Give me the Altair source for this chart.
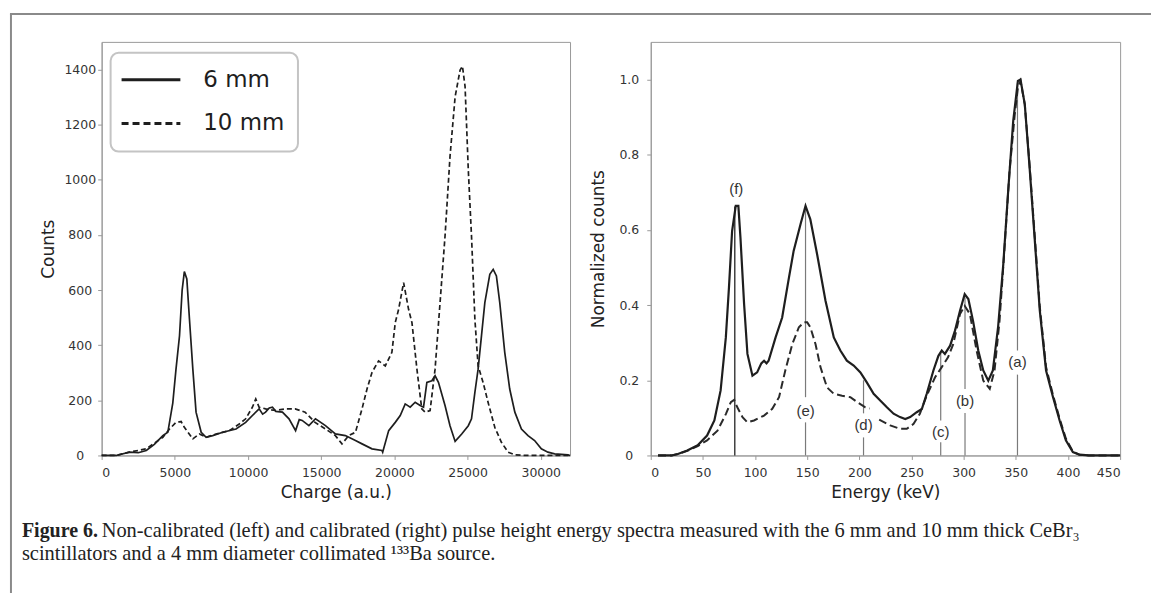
import altair as alt
import pandas as pd

# ---------------- Left panel: non-calibrated spectra ----------------
charge_6mm = [0, 1000, 1900, 2500, 3050, 3600, 4180, 4520, 4860, 5080, 5320, 5500, 5650, 5820, 6000,
              6230, 6450, 6800, 7140, 7590, 8270, 9180, 9840, 10300, 10760, 11000, 11200, 11450, 11670,
              11900, 12350, 12800, 13250, 13500, 13700, 14160, 14610, 15290, 15970, 16650, 17340, 17790,
              18470, 19150, 19200, 19610, 20060, 20400, 20740, 21080, 21420, 21760, 21990, 22220, 22560,
              22780, 23010, 23460, 23800, 24150, 24600, 25050, 25270, 25500, 25720, 25950, 26180, 26520,
              26750, 26970, 27200, 27540, 27880, 28230, 28680, 29130, 29580, 30040, 30490, 30950, 31860, 32000]
counts_6mm = [0, 0, 12, 10, 18, 40, 72, 84, 190, 313, 434, 600, 667, 640, 494,
              313, 157, 84, 66, 72, 84, 96, 120, 145, 169, 150, 157, 172, 175,
              160, 157, 133, 90, 130, 127, 108, 133, 108, 78, 72, 54, 42,
              24, 18, 12, 90, 120, 145, 187, 175, 193, 181, 175, 265, 271,
              289, 265, 181, 108, 51, 78, 108, 133, 229, 313, 434, 554, 657,
              675, 651, 554, 374, 241, 157, 96, 72, 54, 24, 12, 6, 2, 0]

charge_10mm = [0, 1000, 1900, 3050, 4180, 4640, 5080, 5430, 5650, 6230, 6680, 7140, 7820, 8720, 9400,
               9840, 10300, 10530, 10760, 11200, 11870, 12550, 13220, 13900, 14580, 15290, 15970, 16420,
               16880, 17340, 17790, 18130, 18470, 18920, 19380, 19830, 20060, 20290, 20630, 20970, 21200,
               21540, 21870, 22100, 22440, 22780, 23120, 23460, 23800, 24150, 24490, 24650, 24830, 25050,
               25270, 25500, 25720, 26060, 26400, 26860, 27310, 27770, 28230, 29000, 32000]
counts_10mm = [0, 0, 12, 24, 66, 96, 120, 123, 102, 60, 78, 66, 78, 90, 114,
               133, 175, 205, 175, 169, 163, 169, 169, 157, 120, 96, 72, 42,
               72, 84, 169, 241, 301, 343, 325, 374, 482, 530, 627, 530, 482,
               313, 169, 157, 163, 313, 554, 795, 1084, 1301, 1398, 1412, 1338, 1036,
               795, 494, 325, 265, 193, 102, 48, 12, 2, 0, 0]

# ---------------- Right panel: calibrated spectra ----------------
energy_6mm = [7, 20, 26, 35, 45, 54, 61, 67, 72, 75, 78, 81.5, 84, 86, 89.5, 92.7, 97.5, 102, 106, 108.6,
              111, 113, 119.7, 126, 132.5, 137, 143.6, 148.4, 153, 159.5, 167.5, 175.5, 181.8, 188, 194.6,
              201, 207, 213.7, 220, 226.4, 232.8, 239, 244, 248.7, 255, 260, 264.6, 271, 275.8, 279, 282,
              287, 291.7, 296.5, 301, 304.5, 309, 314, 318.8, 323.6, 328, 333, 338, 342.7, 347.5, 352,
              354.5, 358.6, 363, 368, 373, 379, 385.7, 392, 398, 404.7, 411, 420, 450]
norm_6mm = [0, 0, 0.004, 0.013, 0.027, 0.053, 0.093, 0.173, 0.314, 0.447, 0.597, 0.664, 0.664, 0.58, 0.403,
            0.27, 0.212, 0.221, 0.245, 0.252, 0.245, 0.252, 0.314, 0.367, 0.473, 0.544, 0.615, 0.664, 0.628,
            0.535, 0.412, 0.314, 0.279, 0.252, 0.239, 0.221, 0.195, 0.164, 0.146, 0.128, 0.111, 0.102,
            0.097, 0.102, 0.115, 0.124, 0.164, 0.226, 0.265, 0.279, 0.27, 0.292, 0.332, 0.385, 0.429,
            0.416, 0.358, 0.279, 0.226, 0.199, 0.226, 0.341, 0.509, 0.704, 0.889, 0.996, 1.0, 0.934,
            0.774, 0.58, 0.385, 0.226, 0.155, 0.093, 0.04, 0.009, 0.002, 0, 0]

# 10 mm curve is drawn in two pieces (there is a small break near 215 keV)
energy_10mm_a = [7, 20, 26, 35, 45, 54, 64, 72, 76.8, 80, 83, 88, 92.7, 99, 108.6, 116.5, 123, 129, 135.7,
                 142, 146.8, 150, 153, 158, 162.7, 169, 175.5, 183.4, 191.4, 197.8, 205.7, 210]
norm_10mm_a = [0, 0, 0.004, 0.012, 0.025, 0.04, 0.066, 0.11, 0.142, 0.148, 0.128, 0.102, 0.088, 0.093,
               0.106, 0.124, 0.155, 0.226, 0.296, 0.341, 0.354, 0.354, 0.341, 0.296, 0.235, 0.181, 0.164,
               0.159, 0.155, 0.142, 0.128, 0.125]
energy_10mm_b = [219, 229.6, 239, 245.5, 252, 258, 264.6, 272.6, 279, 285, 290, 296.5, 301, 306, 312.4,
                 318.8, 325, 329.6, 334.4, 339, 344, 349, 352, 354.5, 358.6, 363, 368, 373, 379, 385.7,
                 392, 398, 404.7, 411, 420, 450]
norm_10mm_b = [0.095, 0.08, 0.071, 0.071, 0.084, 0.111, 0.159, 0.208, 0.235, 0.261, 0.296, 0.376, 0.398,
               0.376, 0.279, 0.199, 0.177, 0.226, 0.358, 0.544, 0.757, 0.907, 0.978, 0.996, 0.934, 0.78,
               0.59, 0.395, 0.235, 0.16, 0.098, 0.045, 0.01, 0.002, 0, 0]

# Peak annotations
peak_names = ["(a)", "(b)", "(c)", "(d)", "(e)", "(f)"]
peak_energy = [351.6, 301.3, 278, 204, 148.4, 82]
peak_label_y = [0.248, 0.146, 0.062, 0.080, 0.119, 0.708]

seg_names = ["(a)", "(a)", "(b)", "(b)", "(c)", "(c)", "(d)", "(d)", "(e)", "(e)", "(f)"]
seg_energy = [351.6, 351.6, 301.3, 301.3, 278, 278, 204, 204, 148.4, 148.4, 80.6]
seg_y0 = [0, 0.279, 0, 0.177, 0, 0.093, 0, 0.112, 0, 0.155, 0]
seg_y1 = [0.215, 0.99, 0.113, 0.42, 0.035, 0.274, 0.048, 0.2, 0.088, 0.662, 0.662]

INK = "#1e1e1e"

left_6 = pd.DataFrame({"x": charge_6mm, "y": counts_6mm})
left_10 = pd.DataFrame({"x": charge_10mm, "y": counts_10mm})
right_6 = pd.DataFrame({"x": energy_6mm, "y": norm_6mm})
right_10 = pd.DataFrame({"x": energy_10mm_a + energy_10mm_b,
                         "y": norm_10mm_a + norm_10mm_b,
                         "part": ["a"] * len(energy_10mm_a) + ["b"] * len(energy_10mm_b)})
labels_df = pd.DataFrame({"name": peak_names, "x": peak_energy, "y": peak_label_y})
segs_df = pd.DataFrame({"name": seg_names, "x": seg_energy, "y0": seg_y0, "y1": seg_y1})
one = pd.DataFrame({"k": [0]})

# ---------------- Left chart ----------------
xL = alt.X("x:Q", scale=alt.Scale(domain=[0, 32000], nice=False, zero=False),
           axis=alt.Axis(values=[0, 5000, 10000, 15000, 20000, 25000, 30000], format="d",
                         title="Charge (a.u.)", labelPadding=7, titlePadding=6))
yL = alt.Y("y:Q", scale=alt.Scale(domain=[0, 1500], nice=False),
           axis=alt.Axis(values=[0, 200, 400, 600, 800, 1000, 1200, 1400], format="d", title="Counts",
                         labelAlign="center", labelPadding=18, titlePadding=6))

l6 = alt.Chart(left_6).mark_line(color=INK, strokeWidth=1.7).encode(x=xL, y=yL)
l10 = alt.Chart(left_10).mark_line(color=INK, strokeWidth=1.7, strokeDash=[5, 3]).encode(x=xL, y=yL)

legend_box = alt.Chart(one).mark_rect(cornerRadius=8, fill="white", stroke="#c4c4c4", strokeWidth=2).encode(
    x=alt.value(9), x2=alt.value(197), y=alt.value(11), y2=alt.value(110))
legend_l1 = alt.Chart(one).mark_rule(color=INK, strokeWidth=3).encode(
    x=alt.value(20), x2=alt.value(79), y=alt.value(38))
legend_l2 = alt.Chart(one).mark_rule(color=INK, strokeWidth=3, strokeDash=[7, 4]).encode(
    x=alt.value(20), x2=alt.value(79), y=alt.value(82))
legend_t1 = alt.Chart(one).mark_text(align="left", baseline="middle", font="DejaVu Sans", fontSize=23,
                                     color=INK).encode(x=alt.value(102), y=alt.value(38), text=alt.value("6 mm"))
legend_t2 = alt.Chart(one).mark_text(align="left", baseline="middle", font="DejaVu Sans", fontSize=23,
                                     color=INK).encode(x=alt.value(102), y=alt.value(81), text=alt.value("10 mm"))

# figure frame lines and caption
frame_top = alt.Chart(one).mark_rule(color="#8a8a8a", strokeWidth=2).encode(
    x=alt.value(-92), x2=alt.value(1053), y=alt.value(-28))
frame_left = alt.Chart(one).mark_rule(color="#8a8a8a", strokeWidth=2).encode(
    x=alt.value(-91), y=alt.value(-28), y2=alt.value(553))
cap_bold = alt.Chart(one).mark_text(align="left", baseline="middle", font="Liberation Serif", fontSize=20,
                                    fontWeight="bold", color="#222").encode(
    x=alt.value(-80), y=alt.value(491), text=alt.value("Figure 6."))
cap_1 = alt.Chart(one).mark_text(align="left", baseline="middle", font="Liberation Serif", fontSize=20.5,
                                 color="#222").encode(
    x=alt.value(0), y=alt.value(491),
    text=alt.value("Non-calibrated (left) and calibrated (right) pulse height energy spectra measured with the 6 mm and 10 mm thick CeBr\u2083"))
cap_2 = alt.Chart(one).mark_text(align="left", baseline="middle", font="Liberation Serif", fontSize=20.5,
                                 color="#222").encode(
    x=alt.value(-80), y=alt.value(514),
    text=alt.value("scintillators and a 4 mm diameter collimated \u00b9\u00b3\u00b3Ba source."))

left = alt.layer(l10, l6, legend_box, legend_l1, legend_l2, legend_t1, legend_t2,
                 frame_top, frame_left, cap_bold, cap_1, cap_2).properties(width=470, height=415)

# ---------------- Right chart ----------------
xR = alt.X("x:Q", scale=alt.Scale(domain=[0, 450], nice=False, zero=False),
           axis=alt.Axis(values=[0, 50, 100, 150, 200, 250, 300, 350, 400, 450], format="d",
                         title="Energy (keV)", labelPadding=7, titlePadding=6))
yR = alt.Y("y:Q", scale=alt.Scale(domain=[0, 1.1], nice=False),
           axis=alt.Axis(values=[0, 0.2, 0.4, 0.6, 0.8, 1.0],
                         labelExpr="datum.value == 0 ? '0' : format(datum.value, '.1f')",
                         title="Normalized counts", labelAlign="center", labelPadding=18, titlePadding=11))

segs = alt.Chart(segs_df).mark_rule(strokeWidth=1.2).encode(
    x=alt.X("x:Q", scale=alt.Scale(domain=[0, 450], nice=False, zero=False)),
    y=alt.Y("y0:Q", scale=alt.Scale(domain=[0, 1.1], nice=False)), y2="y1:Q",
    color=alt.condition("datum.name == '(f)'", alt.value("#111111"), alt.value("#7a7a7a")))
r10 = alt.Chart(right_10).mark_line(color="#2a2a2a", strokeWidth=2, strokeDash=[8, 4]).encode(
    x=xR, y=yR, detail="part:N")
r6 = alt.Chart(right_6).mark_line(color=INK, strokeWidth=2.2).encode(x=xR, y=yR)
texts = alt.Chart(labels_df).mark_text(font="Liberation Sans", fontSize=15, color="#333").encode(
    x=alt.X("x:Q", scale=alt.Scale(domain=[0, 450], nice=False, zero=False)),
    y=alt.Y("y:Q", scale=alt.Scale(domain=[0, 1.1], nice=False)), text="name:N")

right = alt.layer(segs, r10, r6, texts).properties(width=471, height=415)

chart = alt.hconcat(left, right, spacing=81, bounds="flush").properties(
    padding={"left": 8, "top": 11, "right": 0, "bottom": 0},
    background="white"
).configure_view(stroke="#9a9a9a", strokeWidth=1).configure_axis(
    grid=False, domainColor="#9a9a9a", tickColor="#9a9a9a", tickSize=4,
    labelFont="DejaVu Sans", labelFontSize=12.5, labelColor="#333",
    titleFont="DejaVu Sans", titleFontSize=17, titleFontWeight="normal", titleColor="#222"
)

chart.save("out.html", embed_options={"renderer": "svg", "actions": False})
